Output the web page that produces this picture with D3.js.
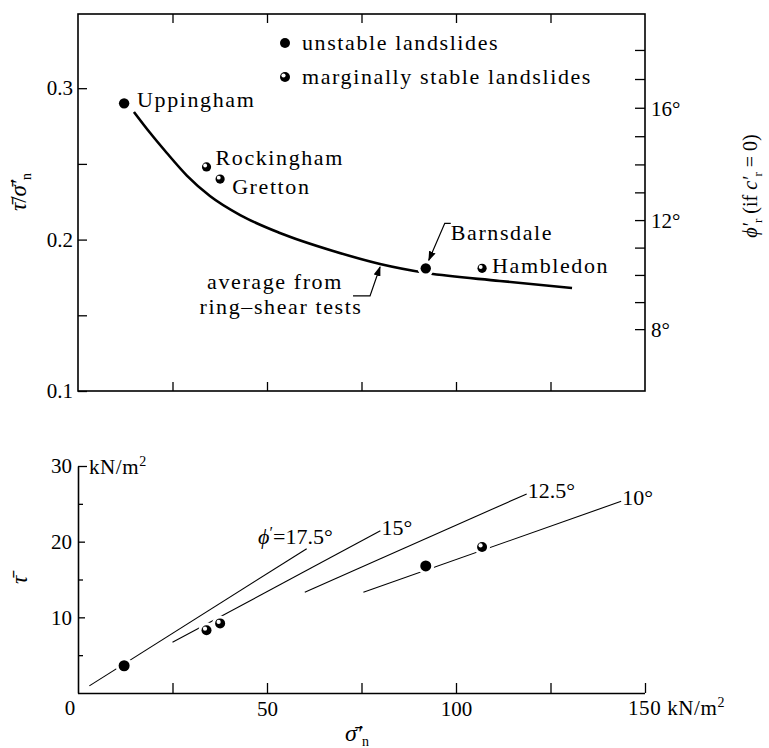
<!DOCTYPE html>
<html><head><meta charset="utf-8">
<script src="https://cdn.jsdelivr.net/npm/d3@7"></script>
<style>
body{margin:0;background:#fff}
svg{display:block}
</style>
</head><body>
<svg id="c" width="769" height="748"></svg>
<script>
// ---- data ----
const sites   = ["Uppingham","Rockingham","Gretton","Barnsdale","Hambledon"];
const status  = ["unstable","marginal","marginal","unstable","marginal"];
const sigmaN  = [12.2, 34.0, 37.6, 92.0, 106.9];     // kN/m2
const ratio   = [0.290, 0.248, 0.240, 0.181, 0.181]; // tau/sigma
const tauVals = [3.6, 8.3, 9.2, 16.8, 19.3];         // kN/m2

const ringSigma = [14.8, 19.0, 23.5, 28.8, 34.9, 42.9, 53.4, 67.5, 79.9, 92.3, 111.6, 130.7];
const ringRatio = [0.2843, 0.2707, 0.2572, 0.2423, 0.2288, 0.2162, 0.2044, 0.1925, 0.1839, 0.1779, 0.1727, 0.168];

const phiDeg    = [17.5, 15, 12.5, 10];
const phiLabels = ["17.5°", "15°", "12.5°", "10°"];
const phiFrom   = [3, 25, 60, 75.5];
const phiTo     = [60.5, 80, 118.7, 143.7];

const ratioTicks  = [0.1, 0.15, 0.2, 0.25, 0.3];
const ratioLabels = [0.1, 0.2, 0.3];
const degTicks    = [8,9,10,11,12,13,14,15,16,17,18];
const degLabels   = [8, 12, 16];
const sigmaTicks  = [25, 50, 75, 100, 125, 150];
const tauTicks    = [5, 10, 15, 20, 25, 30];
const tauLabels   = [10, 20, 30];

// ---- scales ----
const svg = d3.select("#c").style("font-family", '"Liberation Serif"');
const FONT = '"Liberation Serif"';
const TICK = 21, LAB = 22, LS = "1.6px";
const x    = d3.scaleLinear().domain([0,150]).range([78,645]);
const yTop = d3.scaleLinear().domain([0.1,0.349]).range([391,14]);
const yBot = d3.scaleLinear().domain([0,30]).range([693,466]);
const rad  = d => d*Math.PI/180;
const yDeg = d => yTop(Math.tan(rad(d)));

function txt(g, size, ls){
  const t = g.append("text").style("font-family", FONT).attr("font-size", size).attr("fill","#000");
  if(ls) t.style("letter-spacing", ls);
  return t;
}

const defs = svg.append("defs");
defs.append("marker").attr("id","arr").attr("markerUnits","userSpaceOnUse")
  .attr("markerWidth",10).attr("markerHeight",7).attr("refX",9).attr("refY",3.5)
  .attr("orient","auto")
  .append("path").attr("d","M0,0 L10,3.5 L0,7 z").attr("fill","#000");

function styleAxis(g, size){
  g.attr("font-family", null).attr("font-size", size);
  g.selectAll("line").attr("stroke","#000").attr("stroke-width",1.3);
  g.selectAll("path.domain").attr("stroke","#000").attr("stroke-width",1.6);
  g.selectAll("text").attr("fill","#000").style("font-family", FONT);
}

function marker(g, cx, cy, r, kind){
  g.append("circle").attr("cx",cx).attr("cy",cy).attr("r",r+3).attr("fill","#fff");
  g.append("circle").attr("cx",cx).attr("cy",cy).attr("r",r).attr("fill","#000");
  if(kind==="marginal"){
    g.append("circle").attr("cx",cx-r*0.3).attr("cy",cy-r*0.3).attr("r",r*0.42).attr("fill","#fff");
  }
}

// ================= TOP PANEL =================
const topG = svg.append("g");
const ringPts = ringSigma.map((s,i)=>[s, ringRatio[i]]);
topG.append("path").datum(ringPts)
  .attr("d", d3.line().x(d=>x(d[0])).y(d=>yTop(d[1])).curve(d3.curveMonotoneX))
  .attr("fill","none").attr("stroke","#000").attr("stroke-width",2.6);

topG.append("rect").attr("x",x(0)).attr("y",yTop(0.349))
  .attr("width",x(150)-x(0)).attr("height",yTop(0.1)-yTop(0.349))
  .attr("fill","none").attr("stroke","#000").attr("stroke-width",1.6);

const gl = topG.append("g").attr("transform",`translate(${x(0)},0)`)
  .call(d3.axisLeft(yTop).tickValues(ratioTicks).tickSize(-9).tickPadding(5)
    .tickFormat(d => ratioLabels.includes(d) ? d3.format(".1f")(d) : ""));
gl.select(".domain").remove();
styleAxis(gl, TICK);

[[yTop(0.1), d3.axisBottom],[yTop(0.349), d3.axisTop]].forEach(([yy, ax])=>{
  const g = topG.append("g").attr("transform",`translate(0,${yy})`)
    .call(ax(x).tickValues(sigmaTicks.filter(v=>v<150)).tickSize(-9).tickFormat(""));
  g.select(".domain").remove();
  styleAxis(g, TICK);
});

const gr = topG.append("g");
gr.selectAll("line").data(degTicks).join("line")
  .attr("x1",x(150)-10).attr("x2",x(150))
  .attr("y1",d=>yDeg(d)).attr("y2",d=>yDeg(d))
  .attr("stroke","#000").attr("stroke-width",1.3);
degLabels.forEach(d=>{
  txt(gr, TICK).attr("x",x(150)+6).attr("y",yDeg(d)).attr("dy","0.35em").text(d+"°");
});

const lg = topG.append("g");
["unstable landslides","marginally stable landslides"].forEach((t,i)=>{
  const yy = 43 + i*34;
  marker(lg, 285, yy, 5, i===0 ? "unstable" : "marginal");
  txt(lg, LAB, LS).attr("x",302).attr("y",yy+7).text(t);
});

const labOff = {
  "Uppingham":[13,4], "Rockingham":[9,-2], "Gretton":[12,15],
  "Barnsdale":[25,-28], "Hambledon":[10,5]
};
sites.forEach((s,i)=>{
  const cx = x(sigmaN[i]), cy = yTop(ratio[i]);
  marker(topG, cx, cy, status[i]==="unstable"?5.2:4.6, status[i]);
  txt(topG, LAB, LS).attr("x",cx+labOff[s][0]).attr("y",cy+labOff[s][1]).text(s);
});

{
  const cx = x(sigmaN[3]), cy = yTop(ratio[3]);
  topG.append("path")
    .attr("d",`M${cx+25},${cy-45} H${cx+19} L${cx+3},${cy-8}`)
    .attr("fill","none").attr("stroke","#000").attr("stroke-width",1.2)
    .attr("marker-end","url(#arr)");
}
{
  const ax = x(ringSigma[8]), ay = yTop(ringRatio[8]);
  topG.append("path")
    .attr("d",`M${ax-27},${ay+32} H${ax-10} L${ax},${ay+3}`)
    .attr("fill","none").attr("stroke","#000").attr("stroke-width",1.2)
    .attr("marker-end","url(#arr)");
  txt(topG, LAB, LS).attr("x",ax-105).attr("y",ay+25).attr("text-anchor","middle").text("average from");
  txt(topG, LAB, LS).attr("x",ax-99).attr("y",ay+50).attr("text-anchor","middle").text("ring–shear tests");
}

{
  const t = txt(svg, 23).attr("transform","translate(26,192) rotate(-90)").attr("text-anchor","middle");
  t.append("tspan").attr("font-style","italic").text("\u03C4\u0304");
  t.append("tspan").text("/");
  t.append("tspan").attr("font-style","italic").text("\u03C3\u0304\u2032");
  t.append("tspan").attr("font-size",14).attr("dy",5).text("n");
}
{
  const t = txt(svg, 20).attr("transform","translate(757,186) rotate(-90)").attr("text-anchor","middle");
  t.append("tspan").attr("font-style","italic").text("\u03D5\u2032");
  t.append("tspan").attr("font-size",13).attr("dy",5).text("r");
  t.append("tspan").attr("dy",-5).text(" (if ");
  t.append("tspan").attr("font-style","italic").text("c\u2032");
  t.append("tspan").attr("font-size",13).attr("dy",5).text("r");
  t.append("tspan").attr("dy",-5).text(" = 0)");
}

// ================= BOTTOM PANEL =================
const bot = svg.append("g");
phiDeg.forEach((p,i)=>{
  const t = Math.tan(rad(p));
  bot.append("line")
    .attr("x1",x(phiFrom[i])).attr("y1",yBot(phiFrom[i]*t))
    .attr("x2",x(phiTo[i])).attr("y2",yBot(phiTo[i]*t))
    .attr("stroke","#000").attr("stroke-width",1.1);
  const ex = x(phiTo[i]), ey = yBot(phiTo[i]*t);
  if(i===0){
    const lt = txt(bot, LAB).attr("x",ex+26).attr("y",ey-5).attr("text-anchor","end");
    lt.append("tspan").attr("font-style","italic").text("\u03D5");
    lt.append("tspan").attr("dy",-6).attr("font-size",16).text("\u2032");
    lt.append("tspan").attr("dy",6).text("=" + phiLabels[i]);
  } else {
    txt(bot, LAB).attr("x",ex+1).attr("y",ey+4).text(phiLabels[i]);
  }
});

const gbl = bot.append("g").attr("transform",`translate(${x(0)},0)`)
  .call(d3.axisLeft(yBot).tickValues(tauTicks).tickSize(-7).tickSizeOuter(0).tickPadding(6)
    .tickFormat(d => tauLabels.includes(d) ? d : ""));
styleAxis(gbl, TICK);
gbl.selectAll(".tick line").attr("x2", d => d===30 ? 9 : (d%10===0 ? 7 : 5));

const gbb = bot.append("g").attr("transform",`translate(0,${yBot(0)})`)
  .call(d3.axisBottom(x).tickValues(sigmaTicks).tickSize(-10).tickSizeOuter(0).tickPadding(8)
    .tickFormat(d => (d===50||d===100) ? d : ""));
styleAxis(gbb, TICK);
gbb.select(".domain").attr("d",`M${x(0)},0.5H${x(150)}`);

txt(bot, TICK).attr("x",x(0)-8).attr("y",yBot(0)+22).attr("text-anchor","middle").text("0");
{
  const t = txt(bot, TICK, "0.6px").attr("x",x(150)-17).attr("y",yBot(0)+22);
  t.append("tspan").text("150 kN/m");
  t.append("tspan").attr("dy",-8).attr("font-size",14).text("2");
}
{
  const t = txt(bot, TICK, "0.6px").attr("x",x(0)+11).attr("y",yBot(30)+8);
  t.append("tspan").text("kN/m");
  t.append("tspan").attr("dy",-8).attr("font-size",14).text("2");
}

sites.forEach((s,i)=>{
  marker(bot, x(sigmaN[i]), yBot(tauVals[i]), status[i]==="unstable"?5.5:5, status[i]);
});

txt(svg, 23).attr("transform","translate(27,580) rotate(-90)")
  .attr("text-anchor","middle").attr("font-style","italic").text("\u03C4\u0304");
{
  const t = txt(svg, 24).attr("x",357).attr("y",741).attr("text-anchor","middle");
  t.append("tspan").attr("font-style","italic").text("\u03C3\u0304\u2032");
  t.append("tspan").attr("font-size",14).attr("dy",5).text("n");
}
</script>
</body></html>
